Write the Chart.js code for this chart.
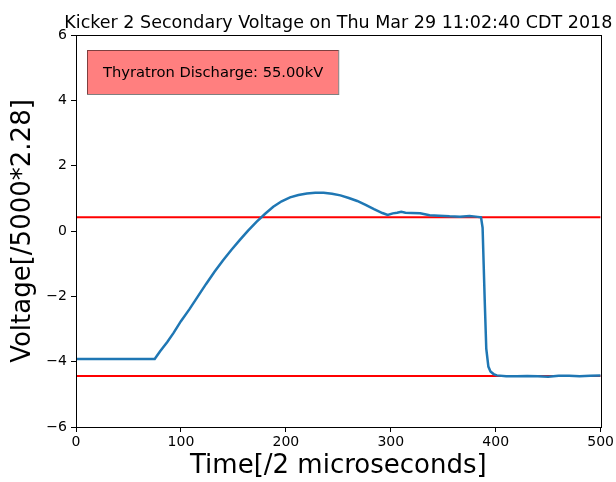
<!DOCTYPE html>
<html>
<head>
<meta charset="utf-8">
<script src="https://cdn.jsdelivr.net/npm/chart.js@4.4.1/dist/chart.umd.min.js"></script>
<style>
  html, body { margin: 0; padding: 0; background: #fff; }
  canvas { display: block; }
</style>
</head>
<body>
<canvas id="voltageChart" width="616" height="482"></canvas>
<script>
// Kicker 2 secondary voltage trace
const timeSteps = [0, 20, 40, 60, 75, 80, 87, 93, 100, 108, 116, 124, 132, 140, 148, 156, 164, 172,
  180, 188, 196, 204, 212, 220, 228, 236, 244, 252, 260, 268, 276, 284, 292, 297, 302, 306, 310, 314,
  320, 328, 337, 346, 356, 366, 375, 381, 386, 387.5, 388.5, 389.5, 391, 393, 395, 398, 401, 410,
  420, 430, 440, 450, 460, 470, 480, 490, 500];
const voltage = [-3.92, -3.92, -3.92, -3.92, -3.92, -3.69, -3.40, -3.12, -2.76, -2.40, -2.01, -1.62,
  -1.25, -0.90, -0.58, -0.28, 0.01, 0.28, 0.52, 0.74, 0.91, 1.03, 1.10, 1.15, 1.17, 1.17, 1.14, 1.09,
  1.01, 0.92, 0.80, 0.67, 0.55, 0.49, 0.54, 0.56, 0.59, 0.56, 0.55, 0.54, 0.48, 0.47, 0.45, 0.44,
  0.46, 0.44, 0.42, 0.10, -1.00, -2.10, -3.60, -4.15, -4.30, -4.38, -4.42, -4.45, -4.45, -4.44,
  -4.45, -4.46, -4.43, -4.43, -4.45, -4.43, -4.42];
const upperLimit = 0.42;
const lowerLimit = -4.44;
const xTicks = [0, 100, 200, 300, 400, 500];
const yTicks = [-6, -4, -2, 0, 2, 4, 6];
const titleText = 'Kicker 2 Secondary Voltage on Thu Mar 29 11:02:40 CDT 2018';
const boxText = 'Thyratron Discharge: 55.00kV';

const FONT = "'DejaVu Sans', sans-serif";

const points = timeSteps.map((t, i) => ({ x: t, y: voltage[i] }));
const hline = v => [{ x: xTicks[0], y: v }, { x: xTicks[xTicks.length - 1], y: v }];

// title, frame and text box (matplotlib look)
const decorPlugin = {
  id: 'decor',
  afterDraw(chart) {
    const { ctx, chartArea: a } = chart;
    ctx.save();
    ctx.strokeStyle = '#000';
    ctx.lineWidth = 1;
    ctx.strokeRect(Math.round(a.left) + 0.5, Math.round(a.top) + 0.5,
      Math.round(a.right - a.left), Math.round(a.bottom - a.top));

    ctx.fillStyle = '#000';
    ctx.font = '17.5px ' + FONT;
    ctx.textAlign = 'center';
    ctx.textBaseline = 'alphabetic';
    ctx.fillText(titleText, (a.left + a.right) / 2, 28);

    ctx.font = '14.7px ' + FONT;
    const w = ctx.measureText(boxText).width;
    const bx = a.left + 11, by = a.top + 15, bw = w + 31, bh = 44;
    ctx.fillStyle = 'rgba(255,0,0,0.5)';
    ctx.fillRect(bx, by, bw, bh);
    ctx.strokeStyle = 'rgba(0,0,0,0.5)';
    ctx.strokeRect(bx + 0.5, by + 0.5, bw, bh);
    ctx.fillStyle = '#000';
    ctx.textBaseline = 'middle';
    ctx.fillText(boxText, bx + bw / 2 + 0.5, by + bh / 2 + 1);
    ctx.restore();
  }
};

const minusFmt = v => String(v).replace('-', '\u2212');

new Chart(document.getElementById('voltageChart'), {
  type: 'scatter',
  data: {
    datasets: [
      { data: points, showLine: true, borderColor: '#1f77b4', borderWidth: 2.5, pointRadius: 0, tension: 0 },
      { data: hline(upperLimit), showLine: true, borderColor: '#ff0000', borderWidth: 2, pointRadius: 0 },
      { data: hline(lowerLimit), showLine: true, borderColor: '#ff0000', borderWidth: 2, pointRadius: 0 }
    ]
  },
  options: {
    responsive: false,
    animation: false,
    layout: { padding: { top: 35, right: 14, left: 0, bottom: 0 } },
    plugins: { legend: { display: false }, tooltip: { enabled: false } },
    scales: {
      x: {
        type: 'linear', min: 0, max: 500,
        afterFit: s => { s.height = 55; },
        afterBuildTicks: s => { s.ticks = xTicks.map(v => ({ value: v })); },
        ticks: { color: '#000', font: { family: FONT, size: 14 }, padding: 2, maxRotation: 0, callback: minusFmt },
        grid: { drawOnChartArea: false, color: '#000', tickLength: 5 },
        border: { color: '#000', width: 1 },
        title: { display: true, text: 'Time[/2 microseconds]', color: '#000',
          font: { family: FONT, size: 26 }, padding: { top: 0, bottom: 0 } }
      },
      y: {
        type: 'linear', min: -6, max: 6,
        afterFit: s => { s.width = 76; },
        afterBuildTicks: s => { s.ticks = yTicks.map(v => ({ value: v })); },
        ticks: { color: '#000', font: { family: FONT, size: 14 }, padding: 4, callback: minusFmt },
        grid: { drawOnChartArea: false, color: '#000', tickLength: 5 },
        border: { color: '#000', width: 1 },
        title: { display: true, text: 'Voltage[/5000*2.28]', color: '#000',
          font: { family: FONT, size: 26 }, padding: { top: 8, bottom: 0 } }
      }
    }
  },
  plugins: [decorPlugin]
});
</script>
</body>
</html>
